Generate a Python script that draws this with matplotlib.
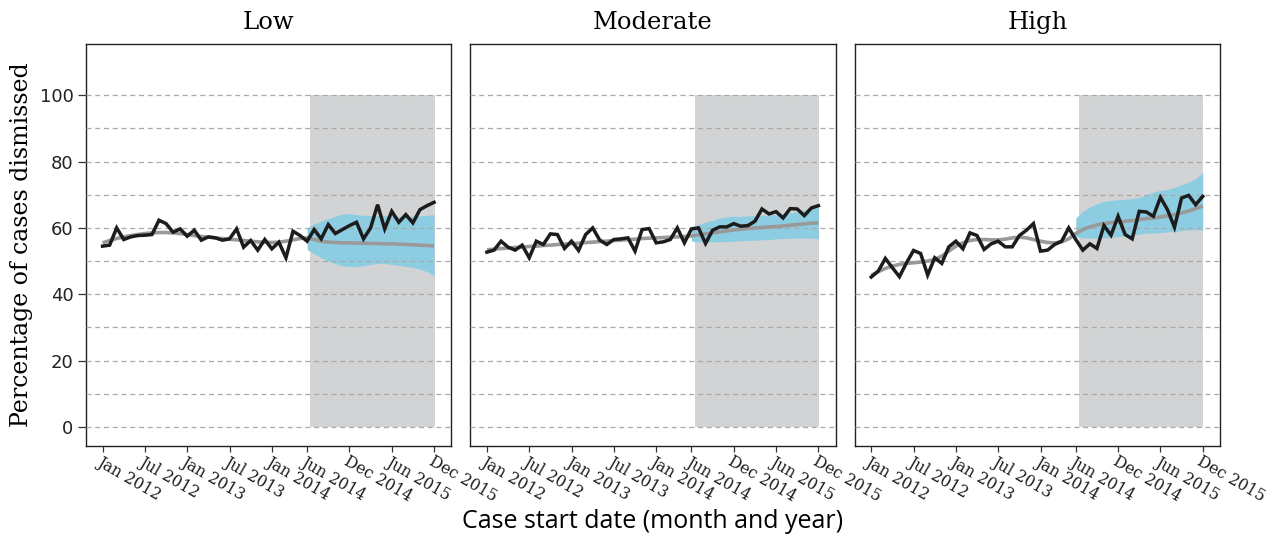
import numpy as np
import matplotlib
matplotlib.use("Agg")
import matplotlib.pyplot as plt

# Monthly case cohorts, Jan 2012 .. Dec 2015 (month index 0..47)
panel_titles = ["Low", "Moderate", "High"]
tick_months = [0, 6, 12, 18, 24, 29, 35, 41, 47]
tick_labels = ["Jan 2012", "Jul 2012", "Jan 2013", "Jul 2013", "Jan 2014",
               "Jun 2014", "Dec 2014", "Jun 2015", "Dec 2015"]

# Observed percentage of cases dismissed
observed_low = [54.5, 54.8, 60.0, 56.5, 57.3, 57.7, 57.8, 58.0, 62.3, 61.3,
                58.7, 59.7, 57.5, 59.3, 56.3, 57.3, 57.0, 56.3, 56.7, 59.7,
                54.2, 56.2, 53.3, 56.5, 53.7, 55.7, 51.0, 59.0, 57.7, 56.0,
                59.5, 56.7, 61.0, 58.3, 59.5, 60.7, 61.7, 56.7, 60.0, 67.0,
                59.7, 65.0, 61.7, 64.0, 61.5, 65.5, 66.7, 67.7]
observed_mod = [52.7, 53.3, 56.0, 54.2, 53.3, 54.8, 51.0, 56.0, 55.0, 58.2,
                58.0, 53.8, 56.0, 53.2, 58.0, 60.0, 56.3, 55.0, 56.5, 56.7,
                57.0, 53.0, 59.5, 59.8, 55.5, 55.8, 56.5, 60.0, 55.5, 59.7,
                60.0, 55.3, 59.3, 60.3, 60.3, 61.3, 60.5, 60.7, 62.0, 65.7,
                64.2, 64.9, 63.0, 65.8, 65.7, 63.7, 66.0, 66.7]
observed_high = [45.2, 47.0, 50.8, 48.0, 45.3, 49.5, 53.2, 52.3, 45.8, 51.0,
                 49.3, 54.3, 56.0, 53.7, 58.5, 57.7, 53.5, 55.2, 56.0, 54.3,
                 54.3, 57.7, 59.3, 61.3, 53.0, 53.3, 55.0, 56.0, 60.0, 56.5,
                 53.3, 55.2, 53.8, 60.7, 57.8, 63.5, 58.0, 56.7, 65.0, 64.8,
                 63.5, 69.2, 65.5, 60.2, 69.0, 69.8, 67.0, 69.5]

# Fitted trend (pre-period) and counterfactual projection (post-period)
trend_low = [55.5, 56.2, 56.8, 57.3, 57.7, 58.0, 58.3, 58.5, 58.6, 58.6,
             58.5, 58.3, 58.0, 57.7, 57.4, 57.2, 57.0, 56.8, 56.6, 56.4,
             56.2, 56.0, 55.8, 55.7, 55.6, 55.7, 56.0, 56.4, 56.8, 57.0,
             56.5, 56.0, 55.7, 55.6, 55.5, 55.5, 55.4, 55.4, 55.3, 55.3,
             55.2, 55.2, 55.1, 55.0, 54.9, 54.8, 54.7, 54.6]
trend_mod = [53.4, 53.6, 53.8, 53.9, 54.1, 54.2, 54.4, 54.5, 54.7, 54.8,
             55.0, 55.1, 55.3, 55.4, 55.6, 55.7, 55.9, 56.0, 56.2, 56.3,
             56.5, 56.6, 56.8, 56.9, 57.0, 57.1, 57.2, 57.3, 57.4, 57.6,
             57.9, 58.2, 58.5, 58.8, 59.1, 59.4, 59.6, 59.8, 60.0, 60.1,
             60.3, 60.4, 60.6, 60.8, 61.0, 61.2, 61.4, 61.5]
trend_high = [45.7, 46.8, 47.8, 48.5, 49.0, 49.3, 49.5, 49.7, 50.0, 50.5,
              51.5, 53.0, 54.5, 55.5, 56.2, 56.5, 56.5, 56.4, 56.4, 56.6,
              57.0, 57.2, 57.0, 56.5, 56.0, 55.6, 55.5, 55.8, 56.7, 58.3,
              59.5, 60.3, 60.9, 61.3, 61.6, 61.8, 62.0, 62.2, 62.5, 62.8,
              63.0, 63.3, 63.6, 64.0, 64.5, 65.1, 65.8, 66.6]

# Prediction interval for the counterfactual, Jun 2014 .. Dec 2015
band_months = list(range(29, 48))
band_low_hi = [60.0, 61.2, 62.0, 62.8, 63.5, 64.2, 64.3, 64.0, 63.8, 63.7,
               63.7, 63.7, 63.6, 63.5, 63.5, 63.5, 63.6, 63.8, 64.0]
band_low_lo = [53.5, 52.2, 51.0, 50.0, 49.2, 48.6, 48.4, 48.4, 48.6, 49.0,
               49.3, 49.3, 49.0, 48.7, 48.4, 48.1, 47.6, 46.8, 45.6]
band_mod_hi = [60.3, 61.0, 61.7, 62.3, 63.0, 63.3, 63.5, 63.5, 63.6, 63.7,
               63.8, 63.9, 64.0, 64.2, 64.5, 64.9, 65.4, 65.9, 66.5]
band_mod_lo = [56.0, 55.8, 55.8, 55.8, 55.8, 55.9, 56.0, 56.1, 56.2, 56.3,
               56.4, 56.5, 56.7, 56.8, 56.9, 57.0, 57.0, 56.9, 56.7]
band_high_hi = [63.0, 65.0, 66.3, 67.3, 68.0, 68.3, 68.5, 68.6, 68.8, 69.2,
                70.0, 70.8, 71.3, 71.6, 72.2, 73.0, 73.8, 74.8, 76.7]
band_high_lo = [57.3, 57.0, 57.0, 57.0, 57.0, 57.2, 57.4, 57.6, 57.8, 58.2,
                58.4, 58.5, 58.6, 58.8, 59.0, 59.2, 59.4, 59.5, 59.3]

# Post-intervention window (month index)
window_start, window_end = 29.45, 47.1

observed = [observed_low, observed_mod, observed_high]
trends = [trend_low, trend_mod, trend_high]
bands_hi = [band_low_hi, band_mod_hi, band_high_hi]
bands_lo = [band_low_lo, band_mod_lo, band_high_lo]

SERIF = ["DejaVu Serif"]
SANS = ["Open Sans", "DejaVu Sans"]

fig = plt.figure(figsize=(12.67, 5.35), dpi=100)
left, right, bottom, top = 86 / 1267, 1220 / 1267, 1 - 446 / 535, 1 - 44 / 535
gap = 19 / 1267
w = (right - left - 2 * gap) / 3
months = np.arange(48)

axes = []
for i in range(3):
    ax = fig.add_axes([left + i * (w + gap), bottom, w, top - bottom])
    axes.append(ax)
    ax.set_xlim(-2.35, 49.45)
    ax.set_ylim(-5.7, 115.4)

    ax.fill_between([window_start, window_end], 0, 100, color="#d1d3d4",
                    linewidth=0, zorder=1)
    ax.fill_between(band_months, bands_lo[i], bands_hi[i], color="#8dcde2",
                    linewidth=0, zorder=2)
    for g in range(0, 101, 10):
        ax.axhline(g, color="#a9a9a9", linewidth=0.9, linestyle=(0, (4, 3)),
                   zorder=3)
    ax.plot(months, trends[i], color="#999999", linewidth=2.6, zorder=4,
            solid_capstyle="butt")
    ax.plot(months, observed[i], color="#1c1c1c", linewidth=2.5, zorder=5,
            solid_joinstyle="miter")

    ax.set_title(panel_titles[i], family=SERIF, fontsize=17.5, pad=11)
    ax.set_yticks(range(0, 101, 20))
    ax.set_xticks(tick_months)
    ax.set_xticklabels(tick_labels, rotation=-30, ha="left", va="top",
                       rotation_mode="anchor", family=SERIF, fontsize=11.3,
                       color="#1a1a1a")
    ax.tick_params(axis="x", length=4, width=0.9, pad=1, color="#333333")
    ax.tick_params(axis="y", length=6, width=0.9, pad=3, color="#333333")
    if i == 0:
        ax.set_yticklabels([str(v) for v in range(0, 101, 20)],
                           family=["DejaVu Sans"], fontsize=13, color="#222222")
        ax.set_ylabel("Percentage of cases dismissed", family=SERIF,
                      fontsize=17, labelpad=5)
    else:
        ax.tick_params(axis="y", labelleft=False, length=0)
    for s in ax.spines.values():
        s.set_linewidth(1.0)
        s.set_color("#222222")

fig.text((left + right) / 2, 0.002, "Case start date (month and year)",
         ha="center", va="bottom", family=SANS, fontsize=18)

fig.savefig("out.png", dpi=100)
